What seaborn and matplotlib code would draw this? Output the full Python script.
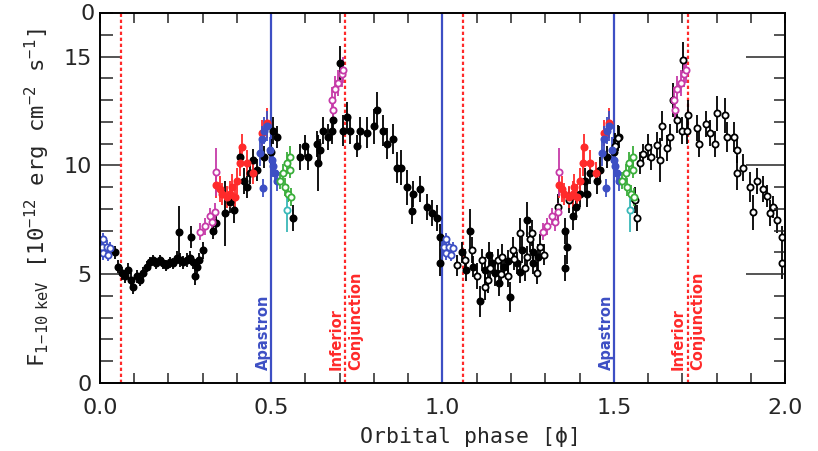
import numpy as np
import pandas as pd
import seaborn as sns
import matplotlib
matplotlib.use("Agg")
import matplotlib.pyplot as plt
from matplotlib.ticker import MultipleLocator

# ---------------- data ----------------
black_phase = [0.044, 0.053, 0.063, 0.073, 0.083, 0.092, 0.097, 0.107, 0.117, 0.126,
               0.136, 0.146, 0.155, 0.165, 0.175, 0.184, 0.194, 0.204, 0.214, 0.224,
               0.231, 0.233, 0.243, 0.253, 0.263, 0.266, 0.272, 0.277, 0.282, 0.29,
               0.30, 0.33, 0.34, 0.365, 0.38, 0.39, 0.41, 0.42, 0.43, 0.438,
               0.447, 0.458, 0.48, 0.50, 0.505, 0.516, 0.565, 0.584, 0.598, 0.607,
               0.633, 0.637, 0.642, 0.652, 0.665, 0.677, 0.68, 0.70, 0.71, 0.72,
               0.73, 0.75, 0.76, 0.78, 0.80, 0.808, 0.826, 0.838, 0.856, 0.867,
               0.88, 0.896, 0.91, 0.915, 0.934, 0.955, 0.97, 0.984, 0.993, 0.993]
black_flux = [6.0, 5.35, 5.05, 4.9, 5.2, 4.75, 4.4, 4.9, 4.75, 5.05,
              5.35, 5.55, 5.65, 5.5, 5.65, 5.5, 5.4, 5.55, 5.5, 5.75,
              6.95, 5.65, 5.55, 5.65, 5.75, 6.7, 5.55, 4.9, 5.35, 5.65,
              6.1, 7.0, 7.35, 7.8, 8.3, 7.95, 10.4, 9.3, 9.0, 9.65,
              10.25, 9.8, 10.4, 10.6, 11.6, 11.3, 7.6, 10.4, 10.9, 10.4,
              11.0, 10.1, 10.7, 11.6, 11.3, 11.6, 12.1, 14.7, 11.6, 12.2,
              11.6, 10.9, 11.6, 11.5, 11.8, 12.55, 11.6, 11.0, 11.2, 9.9,
              9.9, 9.0, 7.9, 8.7, 8.9, 8.1, 7.8, 7.6, 6.7, 5.5]
black_err = [0.3, 0.3, 0.3, 0.3, 0.3, 0.3, 0.3, 0.3, 0.3, 0.3,
             0.25, 0.25, 0.25, 0.25, 0.25, 0.25, 0.25, 0.25, 0.25, 0.3,
             1.2, 0.3, 0.3, 0.3, 0.3, 0.5, 0.3, 0.4, 0.3, 0.3,
             0.4, 0.4, 0.5, 1.5, 0.5, 0.6, 0.5, 0.6, 0.5, 0.5,
             0.5, 0.5, 0.5, 0.6, 0.6, 0.5, 0.6, 0.6, 0.5, 0.6,
             0.6, 1.3, 0.5, 0.6, 0.6, 0.6, 0.6, 0.8, 0.7, 0.7,
             0.6, 0.5, 0.6, 0.7, 0.8, 0.8, 0.7, 0.7, 0.7, 0.7,
             0.8, 0.8, 0.6, 0.6, 0.6, 0.6, 0.6, 0.6, 0.6, 0.6]

open2_phase = [1.042, 1.066, 1.086, 1.10, 1.115, 1.133, 1.162, 1.174, 1.19, 1.206,
               1.226, 1.247, 1.255, 1.275, 1.285, 1.337, 1.37, 1.504, 1.513, 1.562,
               1.567, 1.577, 1.585, 1.60, 1.61, 1.626, 1.635, 1.64, 1.655, 1.664,
               1.673, 1.685, 1.70, 1.703, 1.714, 1.717, 1.743, 1.75, 1.77, 1.78,
               1.795, 1.80, 1.825, 1.83, 1.85, 1.86, 1.86, 1.877, 1.898, 1.907,
               1.918, 1.936, 1.947, 1.956, 1.965, 1.977, 1.99, 1.99,
               1.125, 1.14, 1.17, 1.21, 1.24, 1.26, 1.295]
open2_flux = [5.4, 5.65, 6.1, 4.9, 5.65, 4.75, 5.65, 5.8, 4.9, 6.1,
              6.9, 5.8, 6.6, 5.05, 6.25, 8.1, 8.4, 10.9, 11.25, 8.4,
              7.6, 10.1, 10.5, 10.85, 10.4, 10.95, 10.25, 11.8, 10.8, 11.3,
              13.0, 12.1, 11.6, 14.85, 11.6, 12.3, 11.7, 11.0, 11.9, 11.5,
              11.0, 12.4, 12.3, 11.3, 11.3, 10.7, 9.65, 9.9, 9.0, 7.85,
              9.3, 8.9, 8.6, 7.8, 8.1, 7.5, 6.7, 5.5,
              4.4, 5.3, 5.0, 5.7, 5.3, 6.9, 5.9]
open2_err = [0.5, 0.5, 0.6, 0.6, 0.5, 0.6, 0.5, 0.6, 0.5, 0.6,
             0.7, 0.5, 0.6, 0.5, 0.6, 0.6, 0.6, 0.6, 0.6, 0.6,
             0.6, 0.5, 0.5, 0.6, 0.6, 0.6, 1.0, 0.7, 0.6, 0.6,
             0.8, 0.6, 0.6, 0.8, 0.6, 0.7, 0.6, 0.6, 0.6, 0.6,
             0.6, 0.8, 0.8, 0.7, 0.7, 0.6, 0.8, 0.6, 0.7, 0.8,
             0.6, 0.6, 0.5, 0.6, 0.5, 0.6, 0.5, 0.7,
             0.6, 0.5, 0.6, 0.5, 0.6, 0.6, 0.5]

filled2_phase = [1.057, 1.08, 1.09, 1.11, 1.124, 1.145, 1.153, 1.18, 1.197, 1.217,
                 1.232, 1.247, 1.264, 1.265, 1.358, 1.363, 1.358, 1.38, 1.39, 1.40,
                 1.416, 1.422, 1.43, 1.45, 1.46, 1.48, 1.50, 1.516,
                 1.07, 1.135, 1.165, 1.19, 1.225, 1.28]
filled2_flux = [6.0, 7.0, 5.35, 3.75, 5.2, 5.5, 5.05, 5.35, 3.95, 5.5,
                6.1, 7.5, 6.0, 5.5, 5.3, 6.25, 7.0, 7.65, 8.1, 8.7,
                9.3, 8.7, 9.65, 9.3, 9.8, 10.4, 10.6, 11.3,
                5.2, 5.9, 4.6, 5.6, 5.1, 5.8]
filled2_err = [0.5, 1.0, 0.5, 0.7, 0.6, 0.5, 0.6, 0.5, 0.7, 0.5,
               0.6, 0.8, 0.5, 0.5, 0.6, 0.8, 0.6, 0.6, 0.6, 0.6,
               0.6, 0.6, 0.5, 0.6, 0.6, 0.5, 0.6, 0.5,
               0.5, 0.6, 0.6, 0.5, 0.5, 0.6]

blueo_phase = [0.005, 0.01, 0.01, 0.02, 0.024, 0.03]
blueo_flux = [6.25, 6.6, 5.95, 6.25, 5.9, 6.2]
blueo_err = [0.3, 0.3, 0.3, 0.3, 0.3, 0.3]

bluef_phase = [0.467, 0.472, 0.476, 0.48, 0.487, 0.496, 0.502, 0.505, 0.51, 0.516]
bluef_flux = [10.55, 11.2, 8.95, 11.6, 11.8, 10.7, 10.25, 9.95, 9.65, 9.3]
bluef_err = [0.6, 0.6, 0.4, 0.6, 0.7, 0.6, 0.6, 0.5, 0.5, 0.5]

red_phase = [0.34, 0.35, 0.356, 0.37, 0.38, 0.385, 0.394, 0.40, 0.409, 0.414,
             0.43, 0.447, 0.472, 0.487]
red_flux = [9.1, 8.9, 8.7, 8.55, 8.7, 9.0, 8.55, 9.3, 10.1, 10.85,
            10.1, 9.65, 11.5, 11.95]
red_err = [0.6, 0.6, 0.5, 0.5, 0.6, 0.6, 0.6, 0.6, 0.6, 0.6,
           0.6, 0.5, 0.6, 0.7]

mag_phase = [0.292, 0.306, 0.32, 0.327, 0.336, 0.34, 0.677, 0.68, 0.686, 0.695, 0.706, 0.71]
mag_flux = [6.95, 7.2, 7.65, 7.4, 7.85, 9.7, 13.0, 12.55, 13.5, 13.8, 14.2, 14.4]
mag_err = [0.4, 0.4, 0.4, 0.4, 0.4, 1.1, 0.6, 0.6, 0.6, 0.6, 0.6, 0.6]

green_phase = [0.525, 0.535, 0.54, 0.545, 0.55, 0.555, 0.555, 0.558]
green_flux = [9.3, 9.65, 9.0, 10.1, 8.7, 9.8, 10.4, 8.55]
green_err = [0.4, 0.4, 0.4, 0.5, 0.4, 0.4, 0.5, 0.4]

cyan_phase = [0.546]
cyan_flux = [7.95]
cyan_err = [1.0]

apastron_phase = [0.5, 1.0, 1.5]
conj_phase = [0.06, 0.716, 1.06, 1.716]

xticks = [0.0, 0.5, 1.0, 1.5, 2.0]
yticks = [0, 5, 10, 15]

# ---------------- styling ----------------
sns.set_theme(style="ticks")
plt.rcParams["font.family"] = ["DejaVu Sans"]

C_BLUE = "#3d4fc4"
C_RED = "#ff2a2a"
C_MAG = "#c63aa8"
C_GREEN = "#3aae3a"
C_CYAN = "#3ab8b8"

fig = plt.figure(figsize=(8.18, 4.51), dpi=100)
ax = fig.add_axes([0.1222, 0.1508, 0.8375, 0.8204])


def draw(phase, flux, err, color, filled, shifts=(0.0,), ms=20):
    for s in shifts:
        df = pd.DataFrame({"phase": np.asarray(phase) + s, "flux": flux, "err": err})
        ax.errorbar(df["phase"], df["flux"], yerr=df["err"], xerr=0.005, fmt="none",
                    ecolor=color, elinewidth=1.3, capsize=0, zorder=3)
        sns.scatterplot(data=df, x="phase", y="flux", ax=ax, s=ms,
                        color=color if filled else "white",
                        edgecolor=color, linewidth=1.3, zorder=4, legend=False)


draw(black_phase, black_flux, black_err, "black", True)
draw(filled2_phase, filled2_flux, filled2_err, "black", True)
draw(open2_phase, open2_flux, open2_err, "black", False)
draw(blueo_phase, blueo_flux, blueo_err, C_BLUE, False, shifts=(0.0, 1.0))
draw(red_phase, red_flux, red_err, C_RED, True, shifts=(0.0, 1.0))
draw(mag_phase, mag_flux, mag_err, C_MAG, False, shifts=(0.0, 1.0))
draw(bluef_phase, bluef_flux, bluef_err, C_BLUE, True, shifts=(0.0, 1.0))
draw(green_phase, green_flux, green_err, C_GREEN, False, shifts=(0.0, 1.0))
draw(cyan_phase, cyan_flux, cyan_err, C_CYAN, False, shifts=(0.0, 1.0))

for p in apastron_phase:
    ax.axvline(p, color=C_BLUE, lw=1.6, zorder=2)
for p in conj_phase:
    ax.axvline(p, color=C_RED, lw=1.6, ls=(0, (1.5, 1.2)), zorder=2)

for p in apastron_phase[0::2]:
    ax.text(p - 0.022, 0.6, "Apastron", rotation=90, color=C_BLUE, fontsize=10.5,
            fontweight="bold", ha="center", va="bottom")
for p in conj_phase[1::2]:
    ax.text(p - 0.027, 0.6, "Inferior", rotation=90, color=C_RED, fontsize=10.5,
            fontweight="bold", ha="center", va="bottom")
    ax.text(p + 0.03, 0.6, "Conjunction", rotation=90, color=C_RED, fontsize=10.5,
            fontweight="bold", ha="center", va="bottom")

ax.set_xlim(0, 2.0)
ax.set_ylim(0, 17)
ax.set_xticks(xticks)
ax.set_xticklabels([f"{t:.1f}" for t in xticks])
ax.set_yticks(yticks)
ax.set_yticklabels([str(t) for t in yticks])
ax.xaxis.set_minor_locator(MultipleLocator(0.1))
ax.yaxis.set_minor_locator(MultipleLocator(1))
ax.tick_params(axis="x", which="both", direction="in", top=True, bottom=True,
               length=7, width=1.1, labelsize=16, pad=11)
ax.tick_params(axis="y", which="major", direction="in", left=True, right=False,
               length=15, width=1.1, labelsize=16, pad=6)
ax.tick_params(axis="y", which="minor", direction="in", left=True, right=False,
               length=9, width=1.1)

axr = ax.twinx()
axr.set_ylim(0, 17)
axr.set_yticks(yticks)
axr.yaxis.set_minor_locator(MultipleLocator(1))
axr.tick_params(axis="y", which="major", direction="in", length=28, width=1.1, labelright=False)
axr.tick_params(axis="y", which="minor", direction="in", length=8, width=1.1)

for a in (ax, axr):
    for sp in a.spines.values():
        sp.set_linewidth(1.2)
        sp.set_color("black")

ax.set_xlabel("Orbital phase [\u03d5]", fontsize=15.5, family="DejaVu Sans Mono")
ax.xaxis.set_label_coords((470 - 100) / 685, -(427 - 383) / 370)
ax.set_ylabel(r"F$_{\mathregular{1\!-\!10\ keV}}$ [10$^{\mathregular{-12}}$ erg cm$^{\mathregular{-2}}$ s$^{\mathregular{-1}}$]",
              fontsize=16, family="DejaVu Sans Mono", labelpad=8)
fig.text(88 / 818, 1 - 14 / 451, "0", fontsize=16, ha="center", va="center")

fig.savefig("out.png", dpi=100)
